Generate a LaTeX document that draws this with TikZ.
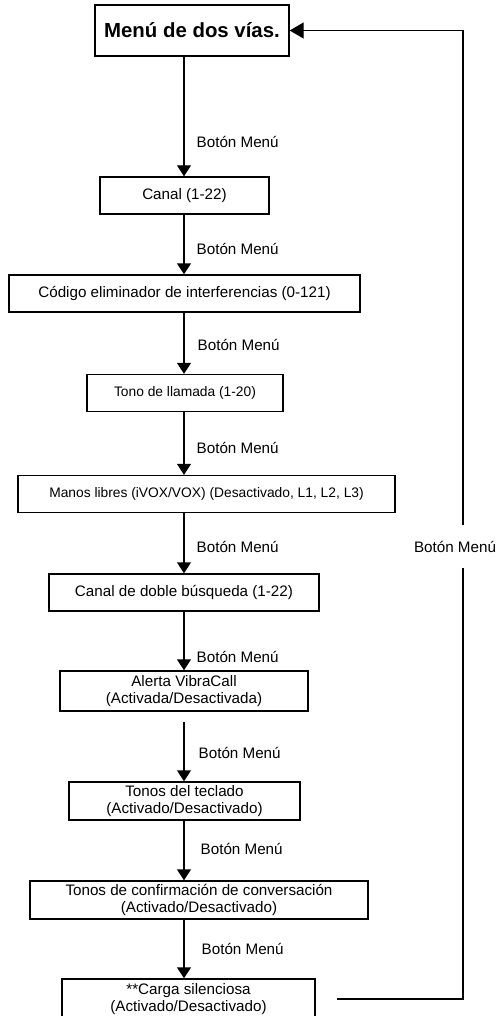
\documentclass[tikz,border=0pt]{standalone}
\usepackage{fontspec}
\setmainfont{Liberation Sans}
\usetikzlibrary{arrows.meta,positioning,calc}

\begin{document}
\begin{tikzpicture}[x=0.5pt,y=-0.5pt,font=\fontsize{7.6}{8.6}\selectfont,line width=0.7pt,
    menubox/.style={draw,align=center,inner sep=0pt,minimum height=18.5pt},
    smalltxt/.style={font=\fontsize{6.9}{8}\selectfont},
    lbl/.style={anchor=west,inner sep=0pt},
    flow/.style={-{Triangle[length=5.5pt,width=7pt]}}]
        \useasboundingbox (0,0) rectangle (496,1016);
        \coordinate (spine) at (184,0);
        \coordinate (ret) at (463,0);
        \node[menubox,minimum width=97pt,minimum height=25.5pt,font=\fontsize{10.2}{12}\selectfont\bfseries] (menu) at (192,30.5) {Menú de dos vías.};
        \node[menubox,minimum width=84.5pt] (canal) at (184.5,195.5) {Canal (1-22)};
        \node[menubox,minimum width=175.5pt] (codigo) at (184.5,293.5) {Código eliminador de interferencias (0-121)};
        \node[menubox,smalltxt,minimum width=98pt] (tono) at (185,393) {Tono de llamada (1-20)};
        \node[menubox,smalltxt,minimum width=188.5pt] (manos) at (206.5,494) {Manos libres (iVOX/VOX) (Desactivado, L1, L2, L3)};
        \node[menubox,minimum width=135pt] (doble) at (184,592.5) {Canal de doble búsqueda (1-22)};
        \node[menubox,minimum width=124pt,minimum height=20pt] (alerta) at (184,691) {Alerta VibraCall\\(Activada/Desactivada)};
        \node[menubox,minimum width=115.5pt,minimum height=19pt] (teclado) at (184.5,801) {Tonos del teclado\\(Activado/Desactivado)};
        \node[menubox,minimum width=169pt,minimum height=19pt] (confirm) at (199,900) {Tonos de confirmación de conversación\\(Activado/Desactivado)};
        \node[menubox,minimum width=126.5pt,minimum height=20pt] (carga) at (188.5,999) {**Carga silenciosa\\(Activado/Desactivado)};
        % cadena principal
        \draw[flow] (menu.south -| spine) -- node[lbl,pos=0.71,xshift=6pt] (b1) {Botón Menú} (canal.north -| spine);
        \draw[flow] (canal.south -| spine) -- node[lbl,pos=0.57,xshift=6pt] (b2) {Botón Menú} (codigo.north -| spine);
        \draw[flow] (codigo.south -| spine) -- node[lbl,pos=0.53,xshift=6.5pt] (b3) {Botón Menú} (tono.north -| spine);
        \draw[flow] (tono.south -| spine) -- node[lbl,pos=0.57,xshift=6pt] (b4) {Botón Menú} (manos.north -| spine);
        \draw[flow] (manos.south -| spine) -- node[lbl,pos=0.56,xshift=6pt] (b5) {Botón Menú} (doble.north -| spine);
        \draw[flow] (doble.south -| spine) -- node[lbl,pos=0.77,xshift=6pt] (b6) {Botón Menú} (alerta.north -| spine);
        \draw[flow,shorten <=5pt] (alerta.south -| spine) -- node[lbl,pos=0.59,xshift=7pt] (b7) {Botón Menú} (teclado.north -| spine);
        \draw[flow] (teclado.south -| spine) -- node[lbl,pos=0.48,xshift=8pt] (b8) {Botón Menú} (confirm.north -| spine);
        \draw[flow] (confirm.south -| spine) -- node[lbl,pos=0.5,xshift=8.5pt] (b9) {Botón Menú} (carga.north -| spine);
        % vuelta al menu
        \draw[-{Triangle[length=7pt,width=8pt]},shorten <=10.5pt] (carga.east) -- (carga.east -| ret)
          -- node[pos=0.467,fill=white,inner xsep=0pt,inner ysep=8pt,xshift=-4pt] (back) {Botón Menú} (ret |- menu.east) -- (menu.east);
      \end{tikzpicture}
\end{document}
